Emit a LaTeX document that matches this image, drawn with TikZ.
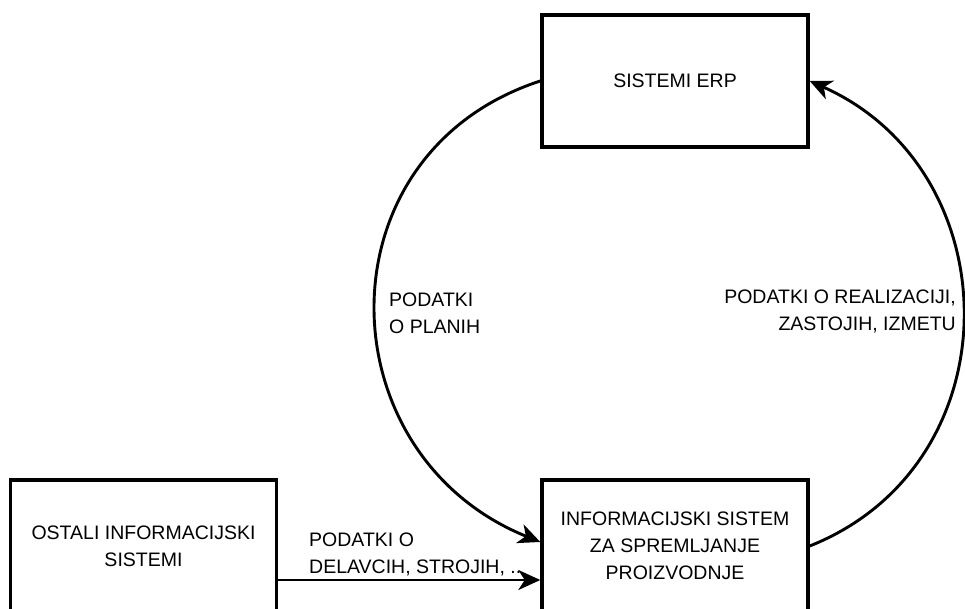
\documentclass[tikz,border=0pt]{standalone}
\usepackage{fontspec}
\setmainfont{Liberation Sans}
\usetikzlibrary{arrows.meta}
\begin{document}
\begin{tikzpicture}[x=1pt,y=1pt,
  box/.style={draw=black,line width=3.4pt,fill=white,minimum width=266pt,minimum height=132pt,
    align=center,inner sep=0pt,font=\fontsize{19.5}{27}\selectfont},
  lbl/.style={inner sep=0pt,font=\fontsize{19.5}{27}\selectfont},
  flow/.style={line width=2.9pt,-{Stealth[length=22pt,width=20pt,inset=6.5pt]}}]
\clip (0,0) rectangle (965,608);
\fill[white] (0,0) rectangle (965,608);
% system boxes
\node[box] (erp) at (675,527) {SISTEMI ERP};
\node[box] (info) at (675,62) {INFORMACIJSKI SISTEM\\ZA SPREMLJANJE\\PROIZVODNJE};
\node[box] (other) at (143.5,62) {OSTALI INFORMACIJSKI\\SISTEMI};
% flow labels
\node[lbl,anchor=west,align=left] (planlbl) at (389,294.5) {PODATKI\\O PLANIH};
\node[lbl,anchor=east,align=right] (reallbl) at (956,297) {PODATKI O REALIZACIJI,\\ZASTOJIH, IZMETU};
\node[lbl,anchor=west,align=left] (reslbl) at (309,54) {PODATKI O\\DELAVCIH, STROJIH, ..};
% data flows
\draw[flow] (erp.west) to[out=198,in=158,looseness=1.30] ([yshift=4pt]info.west);
\draw[flow] (info.east) to[out=21.7,in=-24,looseness=1.22] (erp.east);
\draw[flow] ([yshift=-34pt]other.east) -- ([yshift=-34pt]info.west);
\end{tikzpicture}
\end{document}
